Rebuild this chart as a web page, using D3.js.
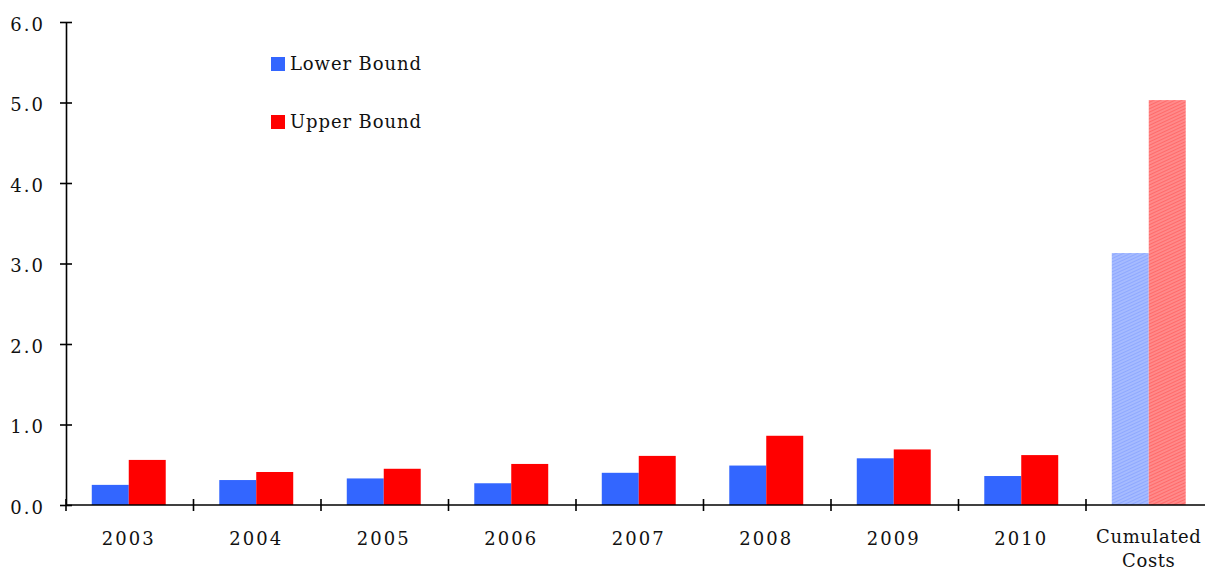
<!DOCTYPE html>
<html>
<head>
<meta charset="utf-8">
<script src="https://cdn.jsdelivr.net/npm/d3@7"></script>
<style>
  html, body { margin: 0; padding: 0; background: #fff; }
  svg { display: block; }
  text { font-family: "DejaVu Serif", "Liberation Serif", serif; fill: #111; }
</style>
</head>
<body>
<svg id="chart" width="1205" height="572"></svg>
<script>
const categories = ["2003", "2004", "2005", "2006", "2007", "2008", "2009", "2010", "Cumulated Costs"];
const seriesNames = ["Lower Bound", "Upper Bound"];
const lowerBound = [0.25, 0.31, 0.33, 0.27, 0.40, 0.49, 0.58, 0.36, 3.13];
const upperBound = [0.56, 0.41, 0.45, 0.51, 0.61, 0.86, 0.69, 0.62, 5.03];
const yTicks = [0, 1, 2, 3, 4, 5, 6];

const svg = d3.select("#chart");
const mLeft = 66, mTop = 22, mBottom = 505, step = 127.5;

const x = d3.scaleBand().domain(categories)
  .range([mLeft - 1, mLeft - 1 + step * categories.length])
  .paddingInner(0.42).paddingOuter(0.21);
const xs = d3.scaleBand().domain(seriesNames).range([0, x.bandwidth()]);
const y = d3.scaleLinear().domain([0, 6]).range([mBottom, mTop]);

// patterns for the cumulated bars
const defs = svg.append("defs");
function pat(id, bg, fg) {
  const p = defs.append("pattern").attr("id", id).attr("patternUnits", "userSpaceOnUse")
    .attr("width", 4).attr("height", 3).attr("patternTransform", "rotate(-25)");
  p.append("rect").attr("width", 4).attr("height", 3).attr("fill", bg);
  p.append("rect").attr("width", 4).attr("height", 1).attr("fill", fg);
}
pat("hatchBlue", "#a6bbff", "#8ea8ff");
pat("hatchRed", "#ff8a8a", "#ff6a6a");

const colors = { "Lower Bound": "#3366ff", "Upper Bound": "#ff0000" };
const hatch = { "Lower Bound": "url(#hatchBlue)", "Upper Bound": "url(#hatchRed)" };

const rows = categories.map((c, i) => ({ cat: c, vals: [
  { s: "Lower Bound", v: lowerBound[i] }, { s: "Upper Bound", v: upperBound[i] }] }));

const g = svg.append("g");
g.selectAll("g.cat").data(rows).join("g").attr("class", "cat")
  .attr("transform", d => `translate(${x(d.cat)},0)`)
  .each(function(d, i) {
    d3.select(this).selectAll("rect").data(d.vals).join("rect")
      .attr("x", e => xs(e.s))
      .attr("width", xs.bandwidth())
      .attr("y", e => y(e.v))
      .attr("height", e => y(0) - y(e.v))
      .attr("fill", e => i === categories.length - 1 ? hatch[e.s] : colors[e.s]);
  });

// Y axis
const yAxis = svg.append("g").attr("transform", `translate(${mLeft},0)`)
  .call(d3.axisLeft(y).tickValues(yTicks).tickFormat(d3.format(".1f")).tickSizeOuter(0).tickSizeInner(6));
yAxis.select(".domain").attr("stroke", "#000").attr("stroke-width", 1.6);
yAxis.selectAll(".tick line").attr("x1", -6).attr("x2", 6).attr("stroke", "#000").attr("stroke-width", 1.6);
yAxis.selectAll(".tick text").attr("x", -21).attr("dy", null).attr("y", 8)
  .style("font-size", "18px").style("letter-spacing", "2px")
  .style("font-family", '"DejaVu Serif", serif').attr("fill", "#111");

// X axis
const xAxis = svg.append("g").attr("transform", `translate(0,${mBottom})`)
  .call(d3.axisBottom(x).tickSize(0).tickSizeOuter(0));
xAxis.select(".domain").attr("d", `M${mLeft},0H1205`).attr("stroke", "#000").attr("stroke-width", 1.6);
xAxis.selectAll(".tick text").each(function(d) {
  const t = d3.select(this).text(null).attr("y", 0).attr("dy", null)
    .style("font-family", '"DejaVu Serif", serif').attr("fill", "#111").style("font-size", "18px");
  const words = d.split(" ");
  if (words.length > 1) {
    t.style("letter-spacing", "0.6px");
    words.forEach((w, k) => t.append("tspan").attr("x", 0).attr("y", 38 + k * 24).text(w));
  } else {
    t.style("letter-spacing", "2px");
    t.append("tspan").attr("x", 0).attr("y", 40).text(d);
  }
});
// category boundary ticks
const bounds = d3.range(categories.length).map(i => mLeft + i * step);
xAxis.selectAll("line.bound").data(bounds).join("line").attr("class", "bound")
  .attr("x1", d => d).attr("x2", d => d).attr("y1", -6).attr("y2", 6)
  .attr("stroke", "#000").attr("stroke-width", 1.6);

// Legend
const legend = svg.append("g").attr("transform", "translate(271,57)");
const li = legend.selectAll("g").data(seriesNames).join("g")
  .attr("transform", (d, i) => `translate(0,${i * 58})`);
li.append("rect").attr("width", 14).attr("height", 14).attr("fill", d => colors[d]);
li.append("text").attr("x", 19).attr("y", 12.5).text(d => d)
  .style("font-size", "18px").style("letter-spacing", "0.9px");
</script>
</body>
</html>
